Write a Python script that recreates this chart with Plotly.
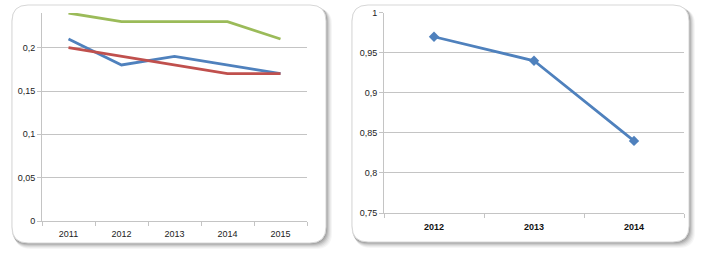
import plotly.graph_objects as go

# ---- data ----
years_left = ["2011", "2012", "2013", "2014", "2015"]
blue_vals = [0.21, 0.18, 0.19, 0.18, 0.17]
red_vals = [0.20, 0.19, 0.18, 0.17, 0.17]
green_vals = [0.24, 0.23, 0.23, 0.23, 0.21]

years_right = ["2012", "2013", "2014"]
right_vals = [0.97, 0.94, 0.84]

W, H = 703, 254

def px(x):
    return x / W

def py(y):
    return 1 - y / H

def rrect(x0, y0, x1, y1, r):
    path = (
        f"M {px(x0 + r)},{py(y0)} L {px(x1 - r)},{py(y0)} "
        f"Q {px(x1)},{py(y0)} {px(x1)},{py(y0 + r)} "
        f"L {px(x1)},{py(y1 - r)} Q {px(x1)},{py(y1)} {px(x1 - r)},{py(y1)} "
        f"L {px(x0 + r)},{py(y1)} Q {px(x0)},{py(y1)} {px(x0)},{py(y1 - r)} "
        f"L {px(x0)},{py(y0 + r)} Q {px(x0)},{py(y0)} {px(x0 + r)},{py(y0)} Z"
    )
    return path

shapes = []
frames = [(12, 5, 326, 243), (352, 5, 689, 242)]
for (x0, y0, x1, y1) in frames:
    for k, a in [(6, 0.035), (5, 0.045), (4, 0.06), (3, 0.08), (2, 0.1), (1, 0.1)]:
        shapes.append(dict(type="path", xref="paper", yref="paper",
                           path=rrect(x0 + k * 0.6 - 1, y0 + k * 0.6, x1 + k, y1 + k, 16),
                           fillcolor=f"rgba(0,0,0,{a})", line=dict(width=0), layer="below"))
    shapes.append(dict(type="path", xref="paper", yref="paper",
                       path=rrect(x0, y0, x1, y1, 16),
                       fillcolor="white", line=dict(color="rgba(215,215,215,1)", width=1), layer="below"))

fig = go.Figure()
fig.add_trace(go.Scatter(x=years_left, y=green_vals, mode="lines",
                         line=dict(color="#9BBB59", width=2.8), xaxis="x", yaxis="y"))
fig.add_trace(go.Scatter(x=years_left, y=blue_vals, mode="lines",
                         line=dict(color="#4F81BD", width=2.8), xaxis="x", yaxis="y"))
fig.add_trace(go.Scatter(x=years_left, y=red_vals, mode="lines",
                         line=dict(color="#C0504D", width=2.8), xaxis="x", yaxis="y"))
fig.add_trace(go.Scatter(x=years_right, y=right_vals, mode="lines+markers",
                         line=dict(color="#4F81BD", width=2.8),
                         marker=dict(symbol="diamond", size=8, color="#4F81BD"),
                         xaxis="x2", yaxis="y2"))

grid = "#C4C4C4"
font_c = "#222222"
axis_common = dict(showline=True, linecolor=grid, linewidth=1, ticks="outside",
                   tickcolor=grid, ticklen=4, zeroline=False, fixedrange=True,
                   automargin=False)

fig.update_layout(
    width=W, height=H,
    margin=dict(l=0, r=0, t=0, b=0, autoexpand=False),
    paper_bgcolor="white", plot_bgcolor="rgba(0,0,0,0)",
    showlegend=False,
    separators=",.",
    font=dict(family="Liberation Sans", size=9, color=font_c),
    shapes=shapes,
    xaxis=dict(domain=[px(42), px(307)], anchor="y", type="category",
               range=[-0.5, len(years_left) - 0.5], ticklabelstandoff=4,
               tickson="boundaries", showgrid=False, **axis_common),
    yaxis=dict(domain=[py(221), py(13)], anchor="x", range=[0, 0.24], dtick=0.05,
               tick0=0, showgrid=True, gridcolor=grid, gridwidth=1, **axis_common),
    xaxis2=dict(domain=[px(384), px(684)], anchor="y2", type="category",
                range=[-0.5, len(years_right) - 0.5], ticklabelstandoff=5,
                tickson="boundaries", showgrid=False,
                tickfont=dict(family="Liberation Sans", size=9, color="#111111", weight="bold"),
                **axis_common),
    yaxis2=dict(domain=[py(213), py(12.7)], anchor="x2", range=[0.75, 1.0], dtick=0.05,
                tick0=0.75, showgrid=True, gridcolor=grid, gridwidth=1, **axis_common),
)

fig.write_html("out.html", config={"displayModeBar": False},
               post_script="document.body.style.margin='0';document.body.style.overflow='hidden';")
